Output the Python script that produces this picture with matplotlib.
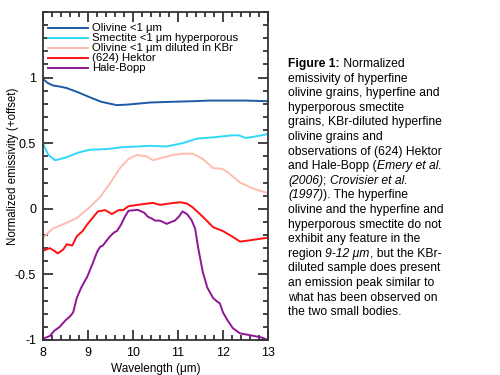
import numpy as np
import matplotlib
matplotlib.use('Agg')
import matplotlib.pyplot as plt
from matplotlib.ticker import MultipleLocator

plt.rcParams['font.family'] = ['Liberation Sans', 'DejaVu Sans']
plt.rcParams['axes.unicode_minus'] = False

# Olivine <1 um
olX = [8.0, 8.1, 8.22, 8.4, 8.53, 8.8, 9.04, 9.3, 9.64, 9.9, 10.38, 10.8, 11.33, 11.7, 12.1, 12.5, 13.0]
olY = [0.99, 0.96, 0.94, 0.93, 0.92, 0.885, 0.85, 0.815, 0.79, 0.795, 0.81, 0.815, 0.82, 0.825, 0.825, 0.825, 0.82]

# Smectite <1 um hyperporous
smX = [8.0, 8.05, 8.12, 8.27, 8.5, 8.8, 9.04, 9.4, 9.78, 10.1, 10.38, 10.75, 11.1, 11.42, 11.8, 12.2, 12.35, 12.5, 12.7, 13.0]
smY = [0.5, 0.46, 0.41, 0.37, 0.39, 0.43, 0.45, 0.455, 0.47, 0.475, 0.48, 0.475, 0.5, 0.535, 0.545, 0.56, 0.56, 0.54, 0.55, 0.57]

# Olivine <1 um diluted in KBr
kbX = [8.0, 8.22, 8.5, 8.75, 9.0, 9.27, 9.5, 9.71, 9.9, 10.08, 10.3, 10.44, 10.6, 10.89, 11.1, 11.33, 11.55, 11.78, 11.98, 12.1, 12.38, 12.7, 13.0]
kbY = [-0.22, -0.15, -0.11, -0.07, 0.0, 0.09, 0.2, 0.31, 0.38, 0.41, 0.4, 0.37, 0.385, 0.41, 0.42, 0.42, 0.38, 0.31, 0.305, 0.28, 0.2, 0.15, 0.12]

# (624) Hektor
heX = [8.0, 8.15, 8.25, 8.33, 8.45, 8.53, 8.65, 8.75, 8.88, 8.98, 9.1, 9.22, 9.38, 9.53, 9.68, 9.78, 9.9, 10.1, 10.44, 10.6, 10.8, 11.04, 11.2, 11.33, 11.55, 11.78, 12.0, 12.2, 12.38, 12.6, 12.8, 13.0]
heY = [-0.32, -0.30, -0.32, -0.34, -0.31, -0.27, -0.28, -0.21, -0.17, -0.12, -0.07, -0.02, -0.01, -0.04, -0.01, -0.01, 0.02, 0.03, 0.045, 0.03, 0.04, 0.05, 0.04, 0.01, -0.06, -0.14, -0.17, -0.21, -0.25, -0.24, -0.23, -0.22]

# Hale-Bopp
hbX = [8.0, 8.15, 8.25, 8.37, 8.5, 8.6, 8.67, 8.75, 8.85, 8.98, 9.1, 9.2, 9.27, 9.33, 9.42, 9.49, 9.58, 9.64, 9.7, 9.75, 9.82, 9.9, 10.11, 10.25, 10.33, 10.42, 10.49, 10.6, 10.75, 10.85, 10.93, 11.02, 11.1, 11.2, 11.3, 11.38, 11.45, 11.55, 11.65, 11.78, 11.88, 11.93, 12.0, 12.1, 12.22, 12.38, 12.55, 12.7, 12.85, 13.0]
hbY = [-0.99, -0.97, -0.93, -0.90, -0.85, -0.82, -0.79, -0.68, -0.60, -0.52, -0.42, -0.33, -0.29, -0.28, -0.24, -0.21, -0.18, -0.17, -0.14, -0.11, -0.06, -0.015, -0.008, -0.03, -0.06, -0.075, -0.09, -0.09, -0.115, -0.10, -0.09, -0.06, -0.02, -0.04, -0.085, -0.15, -0.30, -0.48, -0.60, -0.68, -0.71, -0.72, -0.79, -0.85, -0.91, -0.95, -0.96, -0.97, -0.98, -1.0]

labels = ['Olivine <1 μm', 'Smectite <1 μm hyperporous', 'Olivine <1 μm diluted in KBr', '(624) Hektor', 'Hale-Bopp']
colors = ['#1c5aa6', '#30d8f8', '#ffbcb0', '#ff1010', '#8e1696']

fig = plt.figure(figsize=(5, 3.75), dpi=100)
axW, axH = 225, 328
ax = fig.add_axes([43 / 500, 1 - 340 / 375, axW / 500, axH / 375])

series = [(olX, olY), (smX, smY), (kbX, kbY), (heX, heY), (hbX, hbY)]
for (xs, ys), col in zip(series, colors):
    ax.plot(xs, ys, color=col, lw=1.4)

ax.set_xlim(8, 13)
ax.set_ylim(-1, 1.5)
ax.set_xticks([8, 9, 10, 11, 12, 13])
ax.set_yticks([-1, -0.5, 0, 0.5, 1])
ax.set_yticklabels(['-1', '-0.5', '0', '0.5', '1'])
ax.xaxis.set_minor_locator(MultipleLocator(0.2))
ax.yaxis.set_minor_locator(MultipleLocator(0.1))
ax.tick_params(which='both', direction='in', top=True, right=True, labelsize=9, width=1.2, color='#222222')
ax.tick_params(which='major', length=7, pad=5)
ax.tick_params(which='minor', length=3.5)
for s in ax.spines.values():
    s.set_linewidth(1.3)
    s.set_color('#333333')
ax.set_xlabel('Wavelength (μm)', fontsize=8.5, labelpad=3)
ax.set_ylabel('Normalized emissivity (+offset)', fontsize=8.3)
ax.yaxis.set_label_coords(-0.108, 0.53)

# legend drawn by hand: tight rows, short handles
for i, (lab, col) in enumerate(zip(labels, colors)):
    yy = 1 - (28 + 9.9 * i - 12) / axH
    ax.plot([5 / axW, 45 / axW], [yy, yy], color=col, lw=1.4, transform=ax.transAxes, clip_on=False)
    ax.text(49 / axW, yy, lab, fontsize=8.2, va='center', ha='left', transform=ax.transAxes)

# caption on the right, line by line with mixed styles
caption = [
    [('Figure 1:', 'bold'), (' Normalized', 'normal')],
    [('emissivity of hyperfine', 'normal')],
    [('olivine grains, hyperfine and', 'normal')],
    [('hyperporous smectite', 'normal')],
    [('grains, KBr-diluted hyperfine', 'normal')],
    [('olivine grains and', 'normal')],
    [('observations of (624) Hektor', 'normal')],
    [('and Hale-Bopp (', 'normal'), ('Emery et al.', 'italic')],
    [('(2006)', 'italic'), ('; ', 'normal'), ('Crovisier et al.', 'italic')],
    [('(1997)', 'italic'), ('). The hyperfine', 'normal')],
    [('olivine and the hyperfine and', 'normal')],
    [('hyperporous smectite do not', 'normal')],
    [('exhibit any feature in the', 'normal')],
    [('region ', 'normal'), ('9-12 μm', 'italic'), (', but the KBr-', 'normal')],
    [('diluted sample does present', 'normal')],
    [('an emission peak similar to', 'normal')],
    [('what has been observed on', 'normal')],
    [('the two small bodies.', 'normal')],
]
x0 = 288 / 500
y0 = 1 - 67 / 375
dy = 14.6 / 375
fs = 8.7
for i, parts in enumerate(caption):
    prev = None
    for txt, style in parts:
        weight = 'bold' if style == 'bold' else 'normal'
        fstyle = 'italic' if style == 'italic' else 'normal'
        if prev is None:
            prev = fig.text(x0, y0 - i * dy, txt, fontsize=fs, va='baseline', ha='left',
                            fontweight=weight, fontstyle=fstyle)
        else:
            prev = ax.annotate(txt, xy=(1, 0), xycoords=prev, va='bottom', ha='left',
                               fontsize=fs, fontweight=weight, fontstyle=fstyle,
                               annotation_clip=False)

fig.savefig('out.png', dpi=100)
